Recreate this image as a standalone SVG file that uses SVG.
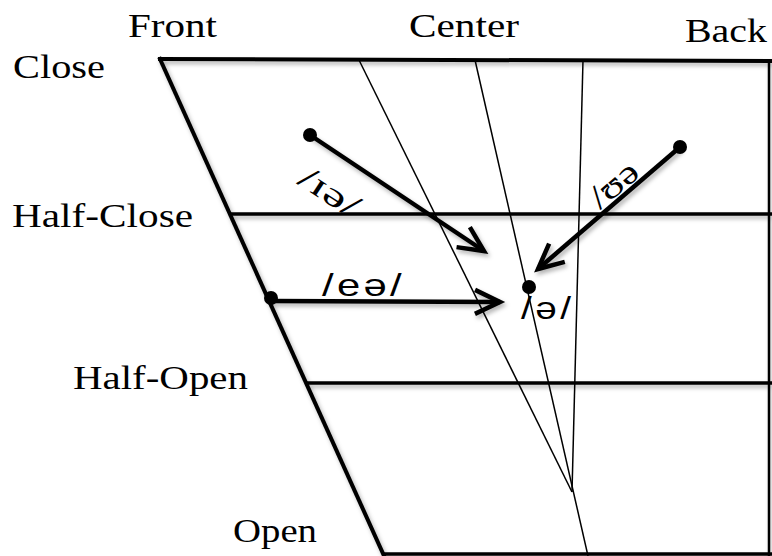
<svg xmlns="http://www.w3.org/2000/svg" width="772" height="556" viewBox="0 0 772 556">
<style>
.lbl{font-family:"Liberation Serif","Times New Roman",serif;font-size:34px;fill:#000}
.ipa{font-family:"Liberation Sans",Arial,sans-serif;font-size:31px;fill:#000}
.ipas{font-family:"Liberation Serif","DejaVu Serif",serif;font-size:34px;fill:#000}
.thick{stroke:#000;stroke-width:4;fill:none;stroke-linecap:square}
.mid{stroke:#000;stroke-width:3.5;fill:none}
.thin{stroke:#000;stroke-width:1.5;fill:none}
.arrow{stroke:#000;stroke-width:4.5;fill:none}
</style>
<defs>
<filter id="sh" x="-20%" y="-20%" width="140%" height="140%">
<feDropShadow dx="2" dy="3" stdDeviation="2" flood-color="#000" flood-opacity="0.3"/>
</filter>
<marker id="head" markerUnits="userSpaceOnUse" markerWidth="40" markerHeight="40" viewBox="-30 -20 40 40" refX="0" refY="0" orient="auto">
<path d="M-25 -12 L0 0 L-25 12" stroke="#000" stroke-width="4.5" fill="none" stroke-linejoin="miter"/>
</marker>
</defs>
<rect width="772" height="556" fill="#fff"/>

<g id="chart" filter="url(#sh)">
<line class="thick" x1="160" y1="59" x2="772" y2="61"/>
<line class="thick" x1="160" y1="59" x2="385" y2="558"/>
<line class="mid" x1="230" y1="214" x2="772" y2="214"/>
<line class="mid" x1="306" y1="383" x2="772" y2="383"/>
<line class="mid" x1="384" y1="554" x2="772" y2="554"/>
<line stroke="#000" stroke-width="2.5" x1="769" y1="60" x2="769" y2="556"/>
</g>
<g id="guides">
<line class="thin" x1="359" y1="60" x2="572" y2="492"/>
<line class="thin" x1="475" y1="60" x2="588" y2="556"/>
<line class="thin" x1="583" y1="60" x2="572" y2="492"/>
</g>

<g id="labels">
<text class="lbl" x="128" y="37" textLength="89" lengthAdjust="spacingAndGlyphs">Front</text>
<text class="lbl" x="409" y="37" textLength="110" lengthAdjust="spacingAndGlyphs">Center</text>
<text class="lbl" x="685" y="42" textLength="82" lengthAdjust="spacingAndGlyphs">Back</text>
<text class="lbl" x="13" y="78" textLength="92" lengthAdjust="spacingAndGlyphs">Close</text>
<text class="lbl" x="12" y="227" textLength="181" lengthAdjust="spacingAndGlyphs">Half-Close</text>
<text class="lbl" x="73" y="389" textLength="175" lengthAdjust="spacingAndGlyphs">Half-Open</text>
<text class="lbl" x="233" y="542" textLength="84" lengthAdjust="spacingAndGlyphs">Open</text>
</g>

<g id="connectors" filter="url(#sh)">
<line class="arrow" x1="310" y1="135" x2="484" y2="251" marker-end="url(#head)"/>
<line class="arrow" x1="271" y1="301" x2="500" y2="302" marker-end="url(#head)"/>
<line class="arrow" x1="680" y1="147" x2="538" y2="269" marker-end="url(#head)"/>
</g>

<g id="dots">
<circle cx="310" cy="135" r="7" fill="#000"/>
<circle cx="271" cy="298" r="7" fill="#000"/>
<circle cx="680" cy="147" r="7" fill="#000"/>
<circle cx="529" cy="287" r="7" fill="#000"/>
</g>

<g id="ipa-labels">
<text class="ipas" transform="translate(296,183) rotate(33)" textLength="66" lengthAdjust="spacingAndGlyphs">/ɪə/</text>
<text class="ipa" transform="translate(322,296) scale(1.35,1)" textLength="59" lengthAdjust="spacing">/eə/</text>
<text class="ipas" transform="translate(600,210) rotate(-40)" textLength="54" lengthAdjust="spacingAndGlyphs">/ʊə</text>
<text class="ipa" transform="translate(521,319) scale(1.25,1)" textLength="40" lengthAdjust="spacing">/ə/</text>
</g>
</svg>
